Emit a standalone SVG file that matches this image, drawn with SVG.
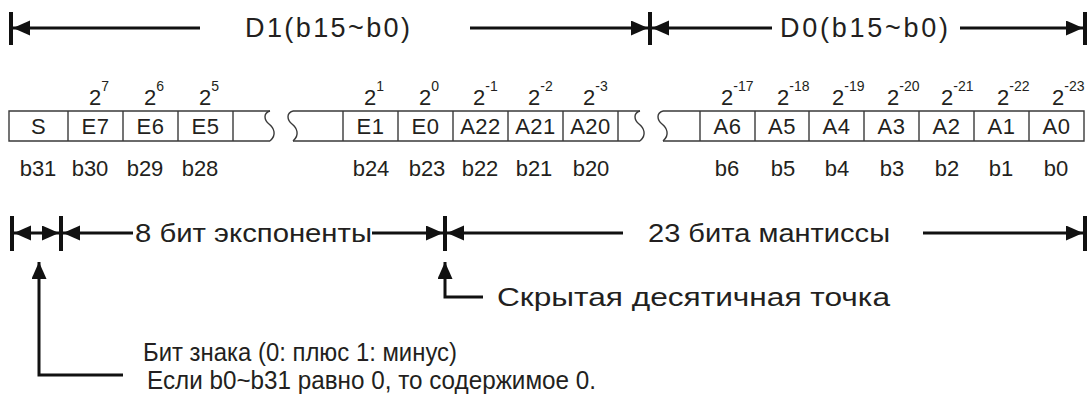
<svg xmlns="http://www.w3.org/2000/svg" width="1091" height="407" viewBox="0 0 1091 407">
<style>
.t{font-family:"Liberation Sans",Arial,sans-serif;fill:#231f20}
.top{font-size:27px}
.ex{font-size:22px}
.sp{font-size:14px}
.cell{font-size:22px;text-anchor:middle;letter-spacing:0.5px}
.bit{font-size:22px;text-anchor:middle}
.lbl{font-size:26px}
.box{fill:none;stroke:#3a3a3a;stroke-width:1.4}
.ar{fill:none;stroke:#111;stroke-width:3}
.bar{stroke:#111;stroke-width:4}
</style>
<defs>
<marker id="ah" markerUnits="userSpaceOnUse" markerWidth="18" markerHeight="16" refX="17" refY="7.5" orient="auto-start-reverse" viewBox="0 0 18 16">
<path d="M0,0 L17,7.5 L0,15 z" fill="#111"/>
</marker>
</defs>
<rect width="1091" height="407" fill="#fff"/>

<g id="register">
<g id="part-left" class="box">
<path d="M270,111 H9 V141 H270"/>
<path d="M270,111 C263,113 264,120 269,124 S277,135 270,141"/>
<path d="M68,111 V141 M123,111 V141 M178,111 V141 M233,111 V141"/>
</g>
<g id="part-mid" class="box">
<path d="M293,111 H640 M293,141 H640"/>
<path d="M293,111 C286,113 287,120 292,124 S300,135 293,141"/>
<path d="M640,111 C633,113 634,120 639,124 S647,135 640,141"/>
<path d="M343,111 V141 M398,111 V141 M453,111 V141 M508,111 V141 M563,111 V141 M618,111 V141"/>
</g>
<g id="part-right" class="box">
<path d="M663,111 H1084 V141 H663"/>
<path d="M663,111 C656,113 657,120 662,124 S670,135 663,141"/>
<path d="M700,111 V141 M755,111 V141 M809,111 V141 M864,111 V141 M919,111 V141 M974,111 V141 M1029,111 V141"/>
</g>
</g>

<g id="cells" class="t cell">
<text x="38.5" y="134">S</text>
<text x="95.5" y="134">E7</text>
<text x="150.5" y="134">E6</text>
<text x="205.5" y="134">E5</text>
<text x="370.5" y="134">E1</text>
<text x="425.5" y="134">E0</text>
<text x="480.5" y="134">A22</text>
<text x="535.5" y="134">A21</text>
<text x="590.5" y="134">A20</text>
<text x="727.5" y="134">A6</text>
<text x="782" y="134">A5</text>
<text x="836.5" y="134">A4</text>
<text x="891.5" y="134">A3</text>
<text x="946.5" y="134">A2</text>
<text x="1001.5" y="134">A1</text>
<text x="1056.5" y="134">A0</text>
</g>

<g id="exponents" class="t ex">
<text x="89" y="105">2<tspan class="sp" dy="-14">7</tspan></text>
<text x="144" y="105">2<tspan class="sp" dy="-14">6</tspan></text>
<text x="199" y="105">2<tspan class="sp" dy="-14">5</tspan></text>
<text x="364" y="105">2<tspan class="sp" dy="-14">1</tspan></text>
<text x="419" y="105">2<tspan class="sp" dy="-14">0</tspan></text>
<text x="473" y="105">2<tspan class="sp" dy="-14">-1</tspan></text>
<text x="528" y="105">2<tspan class="sp" dy="-14">-2</tspan></text>
<text x="583" y="105">2<tspan class="sp" dy="-14">-3</tspan></text>
<text x="721" y="105">2<tspan class="sp" dy="-14">-17</tspan></text>
<text x="777" y="105">2<tspan class="sp" dy="-14">-18</tspan></text>
<text x="832" y="105">2<tspan class="sp" dy="-14">-19</tspan></text>
<text x="887" y="105">2<tspan class="sp" dy="-14">-20</tspan></text>
<text x="941" y="105">2<tspan class="sp" dy="-14">-21</tspan></text>
<text x="997" y="105">2<tspan class="sp" dy="-14">-22</tspan></text>
<text x="1052" y="105">2<tspan class="sp" dy="-14">-23</tspan></text>
</g>

<g id="bits" class="t bit">
<text x="38" y="176">b31</text>
<text x="90" y="176">b30</text>
<text x="145" y="176">b29</text>
<text x="200" y="176">b28</text>
<text x="371" y="176">b24</text>
<text x="427" y="176">b23</text>
<text x="480" y="176">b22</text>
<text x="534" y="176">b21</text>
<text x="591" y="176">b20</text>
<text x="727" y="176">b6</text>
<text x="783" y="176">b5</text>
<text x="837" y="176">b4</text>
<text x="892" y="176">b3</text>
<text x="947" y="176">b2</text>
<text x="1001" y="176">b1</text>
<text x="1056" y="176">b0</text>
</g>

<g id="connectors">
<line class="bar" x1="11" y1="12" x2="11" y2="45"/>
<line class="bar" x1="650" y1="12" x2="650" y2="45"/>
<line class="bar" x1="1085" y1="12" x2="1085" y2="45"/>
<line class="ar" x1="200" y1="28" x2="13" y2="28" marker-end="url(#ah)"/>
<line class="ar" x1="470" y1="28" x2="648" y2="28" marker-end="url(#ah)"/>
<line class="ar" x1="772" y1="28" x2="652" y2="28" marker-end="url(#ah)"/>
<line class="ar" x1="960" y1="28" x2="1083" y2="28" marker-end="url(#ah)"/>

<line class="bar" x1="12" y1="216" x2="12" y2="251"/>
<line class="bar" x1="61" y1="216" x2="61" y2="251"/>
<line class="bar" x1="445" y1="216" x2="445" y2="251"/>
<line class="bar" x1="1085" y1="216" x2="1085" y2="251"/>
<line class="ar" x1="14" y1="233" x2="59" y2="233" marker-start="url(#ah)" marker-end="url(#ah)"/>
<line class="ar" x1="133" y1="233" x2="63" y2="233" marker-end="url(#ah)"/>
<line class="ar" x1="372" y1="233" x2="443" y2="233" marker-end="url(#ah)"/>
<line class="ar" x1="623" y1="233" x2="447" y2="233" marker-end="url(#ah)"/>
<line class="ar" x1="923" y1="233" x2="1083" y2="233" marker-end="url(#ah)"/>

<polyline class="ar" points="483,297 445,297 445,262" marker-end="url(#ah)"/>
<polyline class="ar" points="123,375 39,375 39,262" marker-end="url(#ah)"/>
</g>

<g id="labels" class="t">
<text class="top" x="245" y="37" textLength="165" lengthAdjust="spacing">D1(b15~b0)</text>
<text class="top" x="780" y="37" textLength="168" lengthAdjust="spacing">D0(b15~b0)</text>
<text class="lbl" x="135" y="242" textLength="237" lengthAdjust="spacingAndGlyphs">8 бит экспоненты</text>
<text class="lbl" x="648" y="242" textLength="242" lengthAdjust="spacingAndGlyphs">23 бита мантиссы</text>
<text class="lbl" x="497" y="306" font-size="27" textLength="393" lengthAdjust="spacingAndGlyphs">Скрытая десятичная точка</text>
<text class="lbl" x="143" y="361" textLength="314" lengthAdjust="spacingAndGlyphs">Бит знака (0: плюс 1: минус)</text>
<text class="lbl" x="147" y="389" textLength="449" lengthAdjust="spacingAndGlyphs">Если b0~b31 равно 0, то содержимое 0.</text>
</g>
</svg>
